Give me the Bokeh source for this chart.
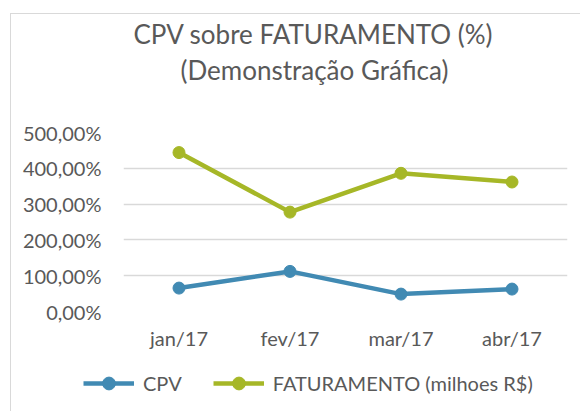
from bokeh.plotting import figure
from bokeh.layouts import column
from bokeh.models import FactorRange, Range1d, Title, Legend, LegendItem, FixedTicker
from bokeh.embed import file_html
from bokeh.resources import INLINE

months = ["jan/17", "fev/17", "mar/17", "abr/17"]
cpv = [65.4, 112.0, 48.6, 62.6]
faturamento = [443.9, 277.6, 386.0, 361.7]
y_ticks = [0, 100, 200, 300, 400, 500]
y_tick_labels = ["0,00%", "100,00%", "200,00%", "300,00%", "400,00%", "500,00%"]
series_names = ["CPV", "FATURAMENTO (milhoes R$)"]
series_colors = ["#418AB3", "#A6B727"]
title_lines = ["CPV sobre FATURAMENTO (%)", "(Demonstração Gráfica)"]

FONT = "Lato"
TXT = "#595959"

p = figure(x_range=FactorRange(*months), y_range=Range1d(0, 500),
           width=569, height=338, output_backend="svg", toolbar_location=None,
           min_border_left=112, min_border_right=13, min_border_top=118,
           min_border_bottom=32)
p.outline_line_color = None
p.background_fill_color = "white"
p.border_fill_color = "white"

# spacer between plot frame and title lines
p.add_layout(Title(text=" ", text_font_size="2px", standoff=41), "above")
t2 = Title(text=title_lines[1], align="left", offset=57, text_font=FONT, text_font_size="26px",
           text_color=TXT, text_font_style="normal", standoff=3)
t1 = Title(text=title_lines[0], align="left", offset=10, text_font=FONT, text_font_size="26px",
           text_color=TXT, text_font_style="normal", standoff=2)
p.add_layout(t2, "above")
p.add_layout(t1, "above")

p.xgrid.visible = False
p.ygrid.ticker = FixedTicker(ticks=y_ticks)
p.ygrid.grid_line_color = "#d9d9d9"
p.ygrid.grid_line_width = 1.3

p.yaxis.ticker = FixedTicker(ticks=y_ticks)
p.yaxis.major_label_overrides = {float(t): l for t, l in zip(y_ticks, y_tick_labels)}
for ax in (p.xaxis[0], p.yaxis[0]):
    ax.axis_line_color = None
    ax.major_tick_line_color = None
    ax.minor_tick_line_color = None
    ax.major_label_text_font = FONT
    ax.major_label_text_font_size = "20px"
    ax.major_label_text_color = TXT
p.yaxis.major_label_standoff = 16
p.xaxis.major_label_standoff = 8

for vals, col in zip([cpv, faturamento], series_colors):
    p.line(months, vals, line_width=4.5, line_color=col)
    p.scatter(months, vals, size=12, fill_color=col, line_color=col)

# legend strip below the chart
pl = figure(x_range=FactorRange(*months), y_range=Range1d(0, 500),
            width=569, height=59, output_backend="svg", toolbar_location=None,
            x_axis_type=None, y_axis_type=None,
            min_border_left=0, min_border_right=0, min_border_top=0, min_border_bottom=0)
for fig in (p, pl):
    if "frame_align" in fig.properties():
        fig.frame_align = False
pl.outline_line_color = None
pl.grid.visible = False
pl.background_fill_color = "white"
pl.border_fill_color = "white"
leg_renderers = []
for vals, col in zip([cpv, faturamento], series_colors):
    ln = pl.line(months, vals, line_width=4.5, line_color=col, visible=False)
    sc = pl.scatter(months, vals, size=12, fill_color=col, line_color=col, visible=False)
    leg_renderers.append([ln, sc])

legend = Legend(items=[LegendItem(label=n, renderers=r) for n, r in zip(series_names, leg_renderers)],
                orientation="horizontal", location=(72, 12), glyph_width=51, glyph_height=32,
                label_standoff=9, spacing=31, padding=0, margin=0,
                inactive_fill_alpha=0,
                border_line_color=None, background_fill_alpha=0,
                label_text_font=FONT, label_text_font_size="20px", label_text_color=TXT)
pl.add_layout(legend)

layout = column(p, pl, spacing=0)
layout.margin = (13, 0, 0, 10)
layout.styles = {"border-left": "1px solid #d9d9d9", "border-top": "1px solid #d9d9d9"}

open("out.html", "w").write(file_html(layout, INLINE))
